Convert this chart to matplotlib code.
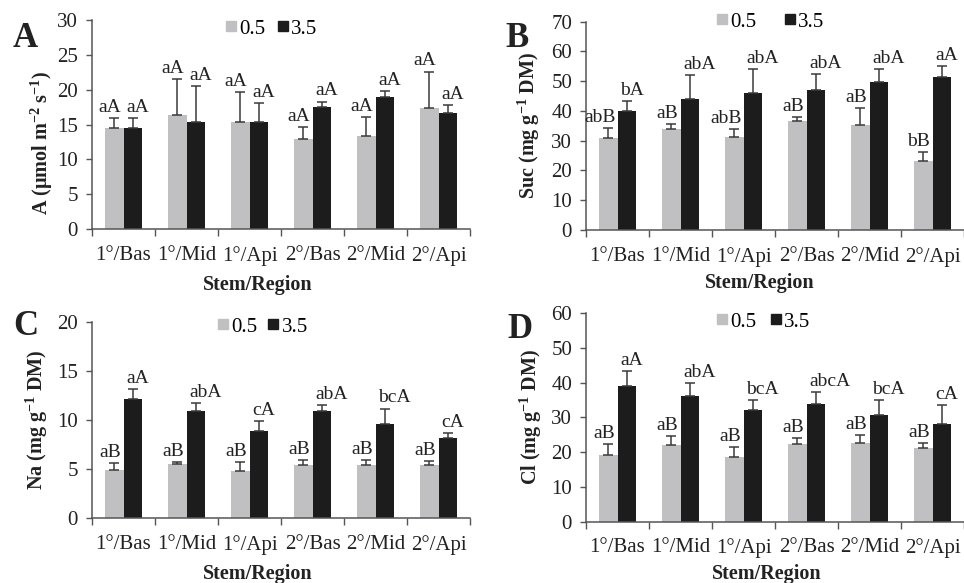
import matplotlib
matplotlib.use("Agg")
import matplotlib.pyplot as plt
import numpy as np
from matplotlib.lines import Line2D

plt.rcParams['font.family'] = ['Liberation Serif', 'DejaVu Serif']
plt.rcParams['mathtext.fontset'] = 'custom'
plt.rcParams['mathtext.rm'] = 'Liberation Serif'
plt.rcParams['mathtext.bf'] = 'Liberation Serif:bold'
plt.rcParams['mathtext.it'] = 'Liberation Serif:italic'

categories = ['1°/Bas', '1°/Mid', '1°/Api', '2°/Bas', '2°/Mid', '2°/Api']
series_names = ['0.5', '3.5']

# Panel A: net photosynthesis
A_low = [14.5, 16.3, 15.3, 12.9, 13.4, 17.3]
A_low_err = [1.4, 5.2, 4.3, 1.8, 2.7, 5.3]
A_high = [14.5, 15.3, 15.3, 17.5, 19.0, 16.65]
A_high_err = [1.4, 5.2, 2.8, 0.8, 0.8, 1.15]
A_low_lab = ['aA'] * 6
A_high_lab = ['aA'] * 6

# Panel B: sucrose
B_low = [30.8, 33.8, 31.2, 36.7, 35.4, 23.2]
B_low_err = [3.4, 1.9, 2.8, 1.4, 5.7, 2.9]
B_high = [40.1, 43.9, 46.2, 47.0, 49.6, 51.5]
B_high_err = [3.2, 8.3, 8.0, 5.4, 4.6, 3.6]
B_low_lab = ['abB', 'aB', 'abB', 'aB', 'aB', 'bB']
B_high_lab = ['bA', 'abA', 'abA', 'abA', 'abA', 'aA']

# Panel C: sodium
C_low = [4.88, 5.46, 4.8, 5.4, 5.4, 5.4]
C_low_err = [0.75, 0.25, 0.9, 0.5, 0.5, 0.4]
C_high = [12.1, 10.95, 8.88, 10.95, 9.6, 8.2]
C_high_err = [1.05, 0.75, 1.0, 0.55, 1.55, 0.45]
C_low_lab = ['aB'] * 6
C_high_lab = ['aA', 'abA', 'cA', 'abA', 'bcA', 'cA']

# Panel D: chloride
D_low = [19.1, 22.0, 18.7, 22.4, 22.6, 21.2]
D_low_err = [3.3, 2.7, 2.7, 1.7, 2.4, 1.5]
D_high = [39.1, 36.0, 32.1, 33.9, 30.8, 28.2]
D_high_err = [4.1, 3.9, 2.8, 3.3, 4.2, 5.4]
D_low_lab = ['aB'] * 6
D_high_lab = ['aA', 'abA', 'bcA', 'abcA', 'bcA', 'cA']

GRAY = '#c0c0c2'
BLACK = '#1c1c1c'
ERR = '#3a3a3a'
SPINE = '#555555'
TXT = '#222222'

W, H = 964, 583
fig = plt.figure(figsize=(W / 100, H / 100), dpi=100)


def px_axes(left, right, top, bottom):
    return fig.add_axes([left / W, 1 - bottom / H, (right - left) / W, (bottom - top) / H])


panels = [
    dict(box=(92, 470, 20, 229), ymax=30, step=5, low=A_low, lowe=A_low_err, high=A_high, highe=A_high_err,
         ll=A_low_lab, hl=A_high_lab,
         ylabel=r'A ($\mathbf{\mu}$mol m$^{\mathbf{-2}}$ s$^{\mathbf{-1}}$)',
         ylab_xy=(-0.098, 0.41), letter='A', letter_xy=(13, 47), leg_xy=(226, 29), colsp=0.58,
         xlab_xy=(258, 285)),
    dict(box=(586, 964, 21.7, 230), ymax=70, step=10, low=B_low, lowe=B_low_err, high=B_high, highe=B_high_err,
         ll=B_low_lab, hl=B_high_lab,
         ylabel=r'Suc (mg g$^{\mathbf{-1}}$ DM)',
         ylab_xy=(-0.116, 0.5), letter='B', letter_xy=(505, 47), leg_xy=(717, 22), colsp=1.35,
         xlab_xy=(760, 283)),
    dict(box=(92, 470, 321.7, 518), ymax=20, step=5, low=C_low, lowe=C_low_err, high=C_high, highe=C_high_err,
         ll=C_low_lab, hl=C_high_lab,
         ylabel=r'Na (mg g$^{\mathbf{-1}}$ DM)',
         ylab_xy=(-0.111, 0.5), letter='C', letter_xy=(13, 335), leg_xy=(218, 327), colsp=0.5,
         xlab_xy=(258, 574)),
    dict(box=(586, 964, 313, 521.7), ymax=60, step=10, low=D_low, lowe=D_low_err, high=D_high, highe=D_high_err,
         ll=D_low_lab, hl=D_high_lab,
         ylabel=r'Cl (mg g$^{\mathbf{-1}}$ DM)',
         ylab_xy=(-0.111, 0.5), letter='D', letter_xy=(507, 338), leg_xy=(717, 322), colsp=0.67,
         xlab_xy=(767, 574)),
]

bw = 0.286
x = np.arange(len(categories))

for p in panels:
    ax = px_axes(*p['box'])
    low = np.array(p['low']); high = np.array(p['high'])
    lowe = np.array(p['lowe']); highe = np.array(p['highe'])
    ax.bar(x - bw / 2, low, bw, color=GRAY, zorder=2)
    ax.bar(x + bw / 2, high, bw, color=BLACK, zorder=2)
    ax.errorbar(x - bw / 2, low, yerr=[np.zeros_like(lowe), lowe], fmt='none', ecolor=ERR,
                elinewidth=1.1, capsize=3.5, capthick=1.1, zorder=3)
    ax.errorbar(x + bw / 2, high, yerr=[np.zeros_like(highe), highe], fmt='none', ecolor=ERR,
                elinewidth=1.1, capsize=3.5, capthick=1.1, zorder=3)
    for xi, v, e, t in zip(x, low, lowe, p['ll']):
        ax.annotate(t, (xi, v + e), xytext=(-1.5, 1.5), textcoords='offset points',
                    ha='right', va='bottom', fontsize=14, color=TXT)
    for xi, v, e, t in zip(x, high, highe, p['hl']):
        ax.annotate(t, (xi, v + e), xytext=(2.0, 1.5), textcoords='offset points',
                    ha='left', va='bottom', fontsize=14, color=TXT)

    ax.set_xlim(-0.5, len(categories) - 0.5)
    ax.set_ylim(0, p['ymax'])
    ax.set_yticks(np.arange(0, p['ymax'] + 0.1, p['step']))
    ax.set_xticks(x)
    ax.set_xticklabels(categories)
    ax.set_xticks(np.arange(-0.5, len(categories), 1.0), minor=True)
    ax.tick_params(axis='x', which='major', length=0, pad=12, labelsize=15, colors=TXT)
    ax.tick_params(axis='x', which='minor', length=5, width=1, color=SPINE, direction='out')
    ax.tick_params(axis='y', length=4, width=1, color=SPINE, pad=6, labelsize=15, labelcolor=TXT)
    for s in ['top', 'right']:
        ax.spines[s].set_visible(False)
    for s in ['left', 'bottom']:
        ax.spines[s].set_color(SPINE)
        ax.spines[s].set_linewidth(1.1)
    ax.set_ylabel(p['ylabel'], fontsize=14.5, fontweight='bold', color=TXT)
    ax.yaxis.set_label_coords(*p['ylab_xy'])

    fig.text(p['xlab_xy'][0] / W, 1 - p['xlab_xy'][1] / H, 'Stem/Region', ha='center', va='center',
             fontsize=14.5, fontweight='bold', color=TXT)
    fig.text(p['letter_xy'][0] / W, 1 - p['letter_xy'][1] / H, p['letter'], ha='left', va='baseline',
             fontsize=25, fontweight='bold', color=TXT)

    handles = [Line2D([], [], marker='s', color=GRAY, linestyle='none', markersize=7),
               Line2D([], [], marker='s', color=BLACK, linestyle='none', markersize=7)]
    fig.legend(handles, series_names, loc='center left',
               bbox_to_anchor=(p['leg_xy'][0] / W, 1 - p['leg_xy'][1] / H),
               ncol=2, frameon=False, fontsize=15, handlelength=0.5, handletextpad=0.15,
               columnspacing=p['colsp'], borderpad=0, borderaxespad=0)

fig.savefig('out.png', dpi=100)
